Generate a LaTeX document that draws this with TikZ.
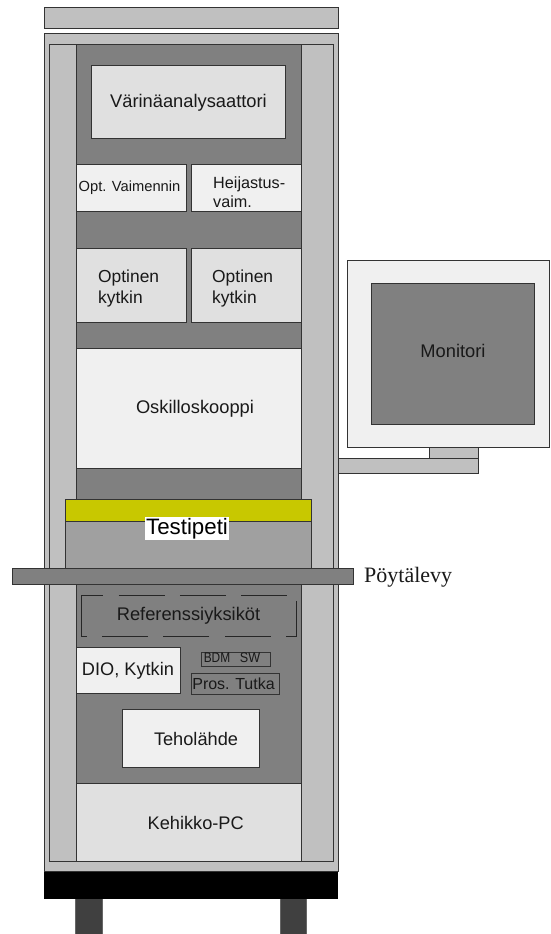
\documentclass[tikz,border=0pt]{standalone}
\usepackage{fontspec}
\setmainfont{Liberation Sans}
\newfontfamily\serifface{Liberation Serif}
\definecolor{cLG}{HTML}{C0C0C0}
\definecolor{cDG}{HTML}{808080}
\definecolor{cE0}{HTML}{E0E0E0}
\definecolor{cF0}{HTML}{F0F0F0}
\definecolor{cMid}{HTML}{A0A0A0}
\definecolor{cLeg}{HTML}{404040}
\definecolor{cYel}{HTML}{C8C800}
\newcommand\fsz[2]{\fontsize{#1}{#2}\selectfont}
\begin{document}
\begin{tikzpicture}[x=1pt,y=-1pt,
  box/.style={draw=black!80, line width=0.7pt},
  lbl/.style={inner sep=0pt, text=black!90},
  smalllbl/.style={inner sep=0.3pt, fill=cDG, text=black!90}]
\useasboundingbox (0,0) rectangle (551,934);

% legs
\fill[cLeg, draw=black!60, line width=0.6pt] (75.7,895) rectangle (102,936);
\fill[cLeg, draw=black!60, line width=0.6pt] (280,895) rectangle (306,936);
% top bar
\filldraw[box, fill=cLG] (44,7) rectangle (338,28.3);
% cabinet outer
\filldraw[box, fill=cLG] (44,33) rectangle (338,871.7);
% black base
\fill[black] (44,871.7) rectangle (338,898.5);
% inner frame with rails
\filldraw[box, fill=cLG] (49,44) rectangle (333,861.7);
% dark middle
\filldraw[box, fill=cDG] (76,44) rectangle (301,861.7);

% upper units
\filldraw[box, fill=cE0] (91,65) rectangle (285,138);
\node[lbl, font=\fsz{18.3}{21}] (va) at (188.5,102.7) {Värinäanalysaattori};

\filldraw[box, fill=cF0] (76,164) rectangle (186,211);
\node[lbl, font=\fsz{14.7}{17}] (ov) at (129.5,188) {Opt. Vaimennin};
\filldraw[box, fill=cF0] (191,164) rectangle (301,211);
\node[lbl, anchor=west, align=left, font=\fsz{16.2}{19}] (hv) at (213,192.5) {Heijastus-\\vaim.};

\filldraw[box, fill=cE0] (76,248) rectangle (186,322);
\node[lbl, anchor=west, align=left, font=\fsz{17.4}{21}] (ok1) at (98,288) {Optinen\\kytkin};
\filldraw[box, fill=cE0] (191,248) rectangle (301,322);
\node[lbl, anchor=west, align=left, font=\fsz{17.4}{21}] (ok2) at (212,288) {Optinen\\kytkin};

\filldraw[box, fill=cF0] (76,348) rectangle (301,468);
\node[lbl, font=\fsz{18.3}{21}] (osc) at (195,409) {Oskilloskooppi};

% Testipeti
\filldraw[box, fill=cMid] (65,521) rectangle (311.7,568);
\filldraw[box, fill=cYel] (65,499) rectangle (311.7,521);
\node[fill=white, inner sep=1pt, font=\fsz{22.3}{25}] (tp) at (187,528.5) {Testipeti};

% table plate
\filldraw[box, fill=cDG] (12,568) rectangle (353,584);
\node[lbl, anchor=west, font=\serifface\fsz{22}{25}] (pl) at (364,577) {Pöytälevy};

% reference units (dashed)
\draw[black!85, line width=0.8pt, dash pattern=on 46pt off 15.3pt, dash phase=24.4pt]
  (81.7,595) -- (296.7,595) -- (296.7,636) -- (81.7,636) -- cycle;
\node[lbl, font=\fsz{18.3}{21}] (ref) at (188.5,616) {Referenssiyksiköt};

% DIO
\filldraw[box, fill=cF0] (76,647) rectangle (180,693);
\node[lbl, font=\fsz{18.2}{21}] (dio) at (128,671) {DIO, Kytkin};

% BDM SW
\draw[box] (201.7,652.3) rectangle (270,666.7);
\node[smalllbl, xscale=0.85, font=\fsz{14}{16}] (bdm) at (217,658) {BDM};
\node[smalllbl, xscale=0.9, font=\fsz{14}{16}] (sw) at (250,658) {SW};
% Pros. Tutka
\draw[box] (191,673.3) rectangle (279.3,694);
\node[smalllbl, font=\fsz{16}{18}, anchor=base] (pros) at (211,689) {Pros.};
\node[smalllbl, font=\fsz{16}{18}, anchor=base] (tutka) at (255,689) {Tutka};

% power supply
\filldraw[box, fill=cF0] (122.7,709) rectangle (259.3,767.7);
\node[lbl, font=\fsz{18.2}{21}] (th) at (196,739) {Teholähde};

% rack PC
\filldraw[box, fill=cE0] (76,783) rectangle (301,861.7);
\node[lbl, font=\fsz{18.2}{21}] (pc) at (195.7,823) {Kehikko-PC};

% monitor
\filldraw[box, fill=cLG] (429,447) rectangle (478.7,458);
\filldraw[box, fill=cLG] (338,458) rectangle (478.7,473);
\filldraw[box, fill=cF0] (347.7,260.7) rectangle (549.5,447);
\filldraw[box, fill=cDG] (371,283) rectangle (534.7,424.7);
\node[lbl, font=\fsz{18.3}{21}] (mon) at (453,351) {Monitori};
\end{tikzpicture}
\end{document}
